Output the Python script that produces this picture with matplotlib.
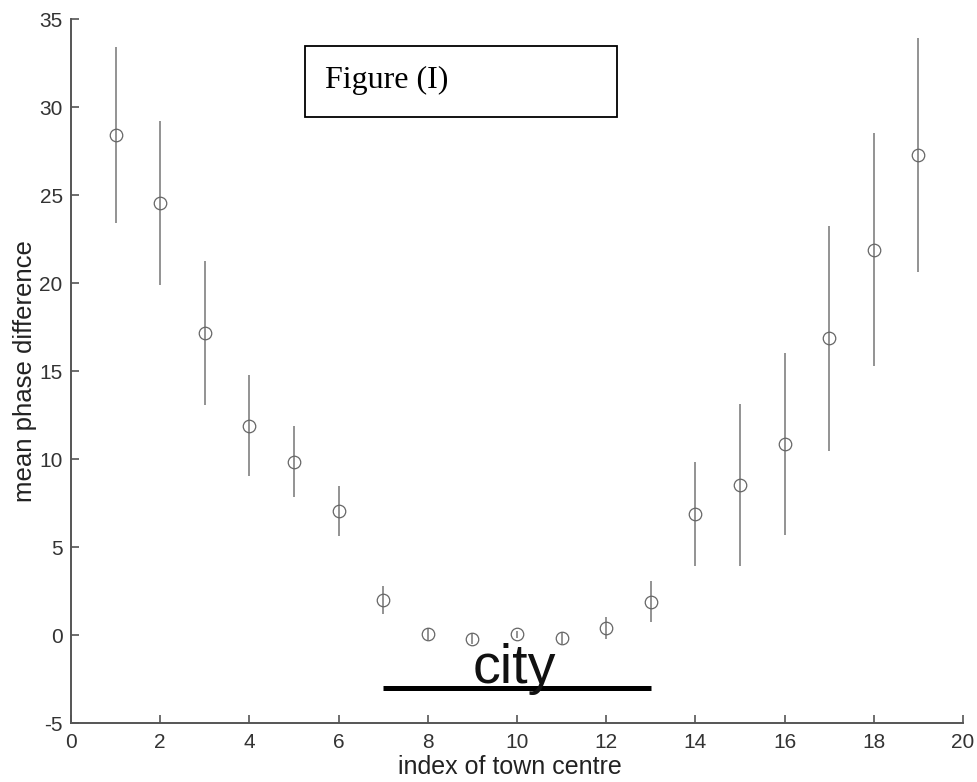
import matplotlib
matplotlib.use("Agg")
import matplotlib.pyplot as plt
from matplotlib.patches import Rectangle

# ── Data ─────────────────────────────────────────────────────────────────────
town_index = [1, 2, 3, 4, 5, 6, 7, 8, 9, 10,
              11, 12, 13, 14, 15, 16, 17, 18, 19]
mean_phase = [28.4, 24.55, 17.15, 11.9, 9.85, 7.05, 2.0, 0.05, -0.2, 0.05,
              -0.15, 0.4, 1.9, 6.9, 8.5, 10.85, 16.85, 21.9, 27.25]
phase_err = [5.0, 4.65, 4.1, 2.85, 2.0, 1.4, 0.8, 0.35, 0.3, 0.2,
             0.35, 0.65, 1.15, 2.95, 4.6, 5.15, 6.4, 6.6, 6.65]

city_span = [7, 13]
city_level = [-3, -3]

X_TICKS = [0, 2, 4, 6, 8, 10, 12, 14, 16, 18, 20]
Y_TICKS = [-5, 0, 5, 10, 15, 20, 25, 30, 35]

SANS = ["Liberation Sans", "DejaVu Sans"]
SERIF = ["Liberation Serif", "DejaVu Serif"]
GREY = "#555555"

plt.rcParams["axes.unicode_minus"] = False

fig = plt.figure(figsize=(9.77, 7.82), dpi=100)
ax = fig.add_axes([0.0727, 0.0754, 0.913, 0.9003])

ax.errorbar(town_index, mean_phase, yerr=phase_err, fmt="o",
            mfc="none", mec="#666666", mew=0.9, ms=9,
            ecolor="#8a8a8a", elinewidth=1.3, capsize=0)

# city line + label
ax.plot(city_span, city_level, color="black", linewidth=3.6,
        solid_capstyle="butt")
ax.text(9.93, -2.73, "city", fontsize=40, family=SANS,
        ha="center", va="baseline", color="#111111")

ax.set_xlim(0, 20)
ax.set_ylim(-5, 35)
ax.set_xticks(X_TICKS)
ax.set_yticks(Y_TICKS)

for side in ("top", "right"):
    ax.spines[side].set_visible(False)
for side in ("left", "bottom"):
    ax.spines[side].set_color(GREY)
    ax.spines[side].set_linewidth(1.4)

ax.tick_params(direction="in", length=6, width=1.2, color=GREY,
               labelsize=15, labelcolor="#333333")
ax.tick_params(axis="x", pad=7)
ax.tick_params(axis="y", pad=6)
for lab in ax.get_xticklabels() + ax.get_yticklabels():
    lab.set_family(SANS)

ax.set_xlabel("index of town centre", fontsize=18, family=SANS,
              color="#222222", labelpad=2)
ax.xaxis.label.set_x(0.492)
ax.set_ylabel("mean phase difference", fontsize=18.5, family=SANS,
              color="#222222", labelpad=2)

# boxed caption
fig.patches.append(Rectangle((305 / 977, 1 - 117 / 782), 312 / 977, 71 / 782,
                             transform=fig.transFigure, fill=False,
                             edgecolor="black", linewidth=1.3))
fig.text(325 / 977, 1 - 88 / 782, "Figure (I)", fontsize=23, family=SERIF,
         ha="left", va="baseline", color="black")

fig.savefig("out.png", dpi=100)
